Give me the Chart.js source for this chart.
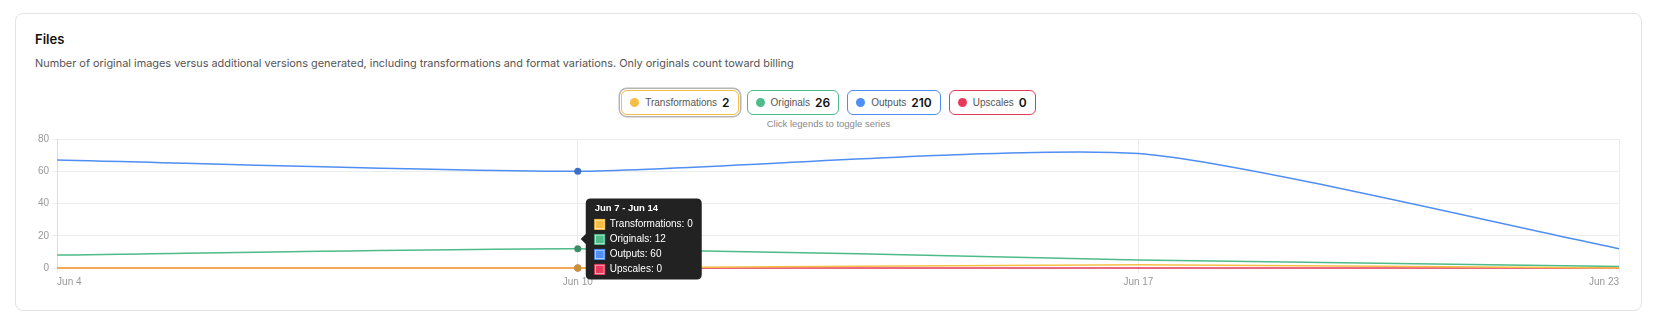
<!DOCTYPE html>
<html>
<head>
<meta charset="utf-8">
<script src="https://cdn.jsdelivr.net/npm/chart.js@4.4.1/dist/chart.umd.min.js"></script>
<style>
  html, body { margin: 0; padding: 0; background: #fff; }
  body { width: 1657px; height: 323px; position: relative; overflow: hidden;
         font-family: Inter, "Liberation Sans", Arial, sans-serif; }
  .card { position: absolute; left: 15px; top: 13px; width: 1627px; height: 298px;
          box-sizing: border-box; border: 1px solid #e3e3e3; border-radius: 8px; }
  .title { position: absolute; left: 35px; top: 31px; font-size: 13px; line-height: 16px;
           font-weight: 600; color: #111; }
  .subtitle { position: absolute; left: 35px; top: 56px; font-size: 10.9px; line-height: 14px; color: #555; }
  .legend { position: absolute; left: 15px; width: 1627px; top: 90px; height: 25px;
            display: flex; justify-content: center; gap: 8px; }
  .lg { box-sizing: border-box; height: 25px; border: 1px solid; border-radius: 6px; background: #fff;
        display: flex; align-items: center; padding: 0 8px 0 8px; }
  .lg .dot { width: 9px; height: 9px; border-radius: 50%; margin-right: 6px; }
  .lg .name { font-family: "Liberation Sans", Arial, sans-serif; font-size: 10px; color: #555; }
  .lg .val { font-size: 12px; font-weight: 600; color: #111; margin-left: 5px; }
  .lg.focus { box-shadow: 0 0 0 1px #fff, 0 0 0 2.5px #b5b5b5; }
  .hint { position: absolute; left: 15px; width: 1627px; top: 118px; text-align: center;
          font-family: "Liberation Sans", Arial, sans-serif; font-size: 9.5px; line-height: 12px; color: #888; }
  .chartbox { position: absolute; left: 30px; top: 129px; width: 1600px; height: 165px; }
</style>
</head>
<body>
<div class="card"></div>
<div class="title">Files</div>
<div class="subtitle">Number of original images versus additional versions generated, including transformations and format variations. Only originals count toward billing</div>
<div class="legend" id="legend"></div>
<div class="hint">Click legends to toggle series</div>
<div class="chartbox"><canvas id="c"></canvas></div>
<script>
// ---- data ----
const categories = ['Jun 4', 'Jun 10', 'Jun 17', 'Jun 23'];
const xDays = [3.5, 10, 17, 23];           // position of each point along June (day of month)
const tooltipTitles = ['May 31 - Jun 7', 'Jun 7 - Jun 14', 'Jun 14 - Jun 21', 'Jun 21 - Jun 23'];
const seriesNames = ['Transformations', 'Originals', 'Outputs', 'Upscales'];
const transformations = [0, 0, 2, 0];
const originals = [8, 12, 5, 1];
const outputs = [67, 60, 71, 12];
const upscales = [0, 0, 0, 0];
const yTicks = [0, 20, 40, 60, 80];
const activeIndex = 1;

// ---- styles ----
const colors = ['#F7BE45', '#4DBB8A', '#4F8EF2', '#E8395B'];
const hoverColors = ['#C99238', '#3B8E66', '#3A70C6', '#B92C48'];
const seriesValues = [transformations, originals, outputs, upscales];

// legend (HTML)
const legendEl = document.getElementById('legend');
seriesNames.forEach((n, i) => {
  const total = seriesValues[i].reduce((a, b) => a + b, 0);
  const b = document.createElement('div');
  b.className = 'lg' + (i === 0 ? ' focus' : '');
  b.style.borderColor = colors[i];
  b.innerHTML = '<span class="dot" style="background:' + colors[i] + '"></span><span class="name">' + n +
                '</span><span class="val">' + total + '</span>';
  legendEl.appendChild(b);
});

const datasets = seriesNames.map((n, i) => ({
  label: n,
  data: seriesValues[i].map((v, j) => ({ x: xDays[j], y: v })),
  borderColor: colors[i],
  backgroundColor: colors[i],
  borderWidth: 1.5,
  tension: 0.2,
  clip: 5,
  pointRadius: 0,
  pointHoverRadius: 3.5,
  pointHoverBorderWidth: 0,
  pointHoverBackgroundColor: hoverColors[i],
  fill: false
}));

const chart = new Chart(document.getElementById('c'), {
  type: 'line',
  data: { datasets },
  options: {
    responsive: true,
    maintainAspectRatio: false,
    animation: false,
    layout: { padding: { left: 5, right: 11, top: 10, bottom: 3 } },
    interaction: { mode: 'index', intersect: false },
    scales: {
      x: {
        type: 'linear',
        min: xDays[0],
        max: xDays[xDays.length - 1],
        afterBuildTicks: s => { s.ticks = xDays.map(v => ({ value: v })); },
        ticks: {
          callback: (v, i) => categories[i],
          align: 'inner', maxRotation: 0, autoSkip: false,
          color: '#999', font: { size: 10, family: '"Liberation Sans", Arial, sans-serif' }, padding: 3
        },
        grid: { color: '#ececec', tickLength: 5 },
        border: { display: false }
      },
      y: {
        min: 0, max: 80,
        afterBuildTicks: s => { s.ticks = yTicks.map(v => ({ value: v })); },
        ticks: { color: '#999', font: { size: 10, family: '"Liberation Sans", Arial, sans-serif' }, padding: 3 },
        grid: { color: '#ececec', tickLength: 5 },
        border: { color: '#dcdcdc' }
      }
    },
    plugins: {
      legend: { display: false },
      tooltip: {
        enabled: true,
        xAlign: 'left', yAlign: 'center',
        backgroundColor: '#222',
        titleColor: '#fff', bodyColor: '#fff',
        titleFont: { size: 9.5, weight: 'bold', family: '"Liberation Sans", Arial, sans-serif', lineHeight: 1.25 },
        bodyFont: { size: 10, family: '"Liberation Sans", Arial, sans-serif', lineHeight: 1.2 },
        padding: { left: 9, right: 9, top: 4, bottom: 4 },
        titleMarginBottom: 4,
        bodySpacing: 3,
        cornerRadius: 5,
        caretSize: 5,
        caretPadding: 3,
        boxWidth: 10, boxHeight: 10, boxPadding: 3,
        callbacks: {
          title: items => tooltipTitles[items[0].dataIndex],
          label: item => item.dataset.label + ': ' + item.parsed.y,
          labelColor: item => ({ borderColor: colors[item.datasetIndex], backgroundColor: colors[item.datasetIndex] })
        }
      }
    }
  }
});

const els = datasets.map((d, i) => ({ datasetIndex: i, index: activeIndex }));
chart.setActiveElements(els);
chart.tooltip.setActiveElements(els, { x: 0, y: 0 });
chart.update('none');
</script>
</body>
</html>
